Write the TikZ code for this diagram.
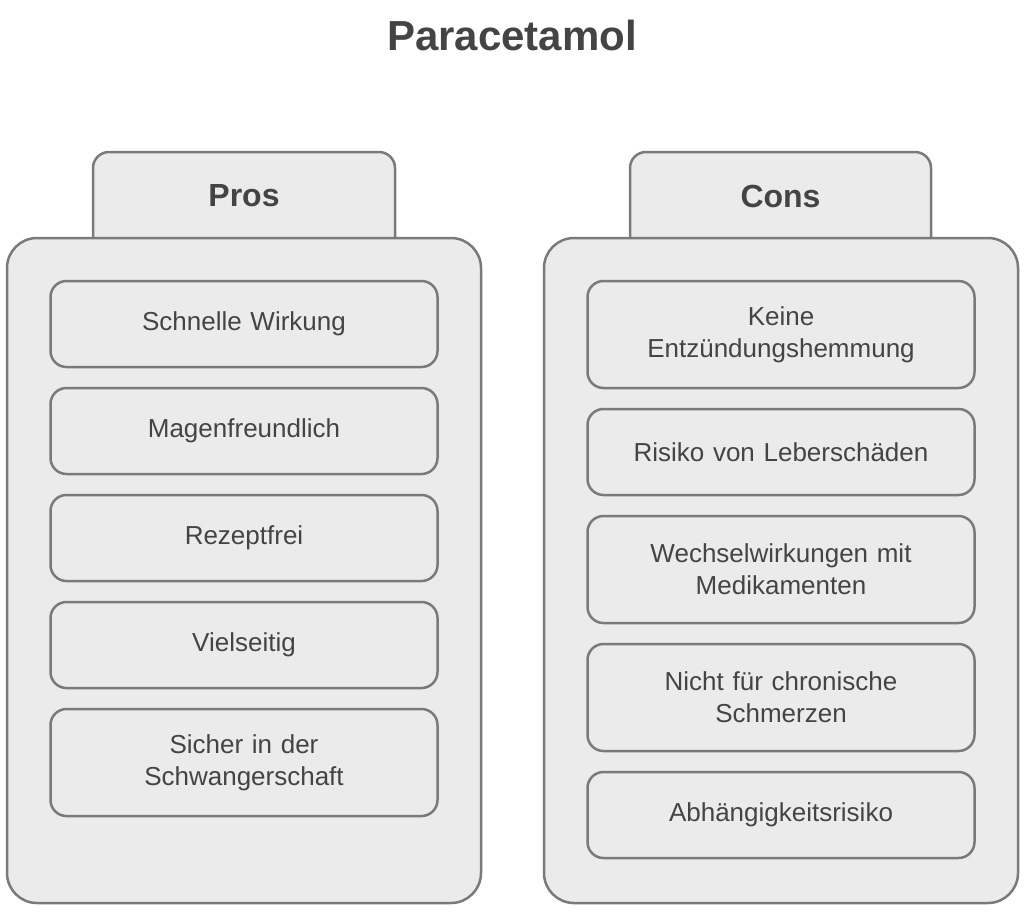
\documentclass[tikz,border=0pt]{standalone}
\usepackage{fontspec}
\setmainfont{Liberation Sans}
\usepackage{xcolor}
\usetikzlibrary{positioning}
\definecolor{cardfill}{HTML}{EBEBEB}
\definecolor{cardline}{HTML}{7A7A7A}
\definecolor{cardtext}{HTML}{444444}

\begin{document}
\begin{tikzpicture}
          [x=1pt, y=-1pt,
           panel/.style={draw=cardline, fill=cardfill, line width=2.5pt, rounded corners=30pt,
             minimum width=474pt, minimum height=665pt, outer sep=0pt},
           tab/.style={draw=cardline, fill=cardfill, line width=2.5pt, rounded corners=16pt},
           item/.style={draw=cardline, fill=cardfill, line width=2.5pt, rounded corners=16pt,
             text width=360pt, align=center, minimum width=387pt, minimum height=86pt,
             outer sep=0pt, text=cardtext, font=\fontsize{26}{32}\selectfont},
           tall/.style={minimum height=107pt},
           heading/.style={text=cardtext, font=\bfseries\fontsize{32}{38}\selectfont},
           node distance=21pt]
          \useasboundingbox (0,0) rectangle (1024,918);

          \node (title) [heading, font=\bfseries\fontsize{42}{50}\selectfont] at (512,35) {Paracetamol};

          % pros column
          \filldraw[tab] (93,260) -- (93,152) -- (395,152) -- (395,260);
          \node (pros) [heading] at (244,196) {Pros};
          \node (prospanel) [panel] at (244,570.5) {};
          \node (p1) [item, below = 43pt of prospanel.north] {Schnelle Wirkung};
          \node (p2) [item, below = of p1] {Magenfreundlich};
          \node (p3) [item, below = of p2] {Rezeptfrei};
          \node (p4) [item, below = of p3] {Vielseitig};
          \node (p5) [item, tall, below = of p4] {Sicher in der\\Schwangerschaft};

          % cons column
          \filldraw[tab] (630,260) -- (630,152) -- (931,152) -- (931,260);
          \node (cons) [heading] at (780.5,196) {Cons};
          \node (conspanel) [panel] at (781,570.5) {};
          \node (c1) [item, tall, below = 43pt of conspanel.north] {Keine\\Entzündungshemmung};
          \node (c2) [item, below = of c1] {Risiko von Leberschäden};
          \node (c3) [item, tall, below = of c2] {Wechselwirkungen mit\\Medikamenten};
          \node (c4) [item, tall, below = of c3] {Nicht für chronische\\Schmerzen};
          \node (c5) [item, below = of c4] {Abhängigkeitsrisiko};

        \end{tikzpicture}
\end{document}
